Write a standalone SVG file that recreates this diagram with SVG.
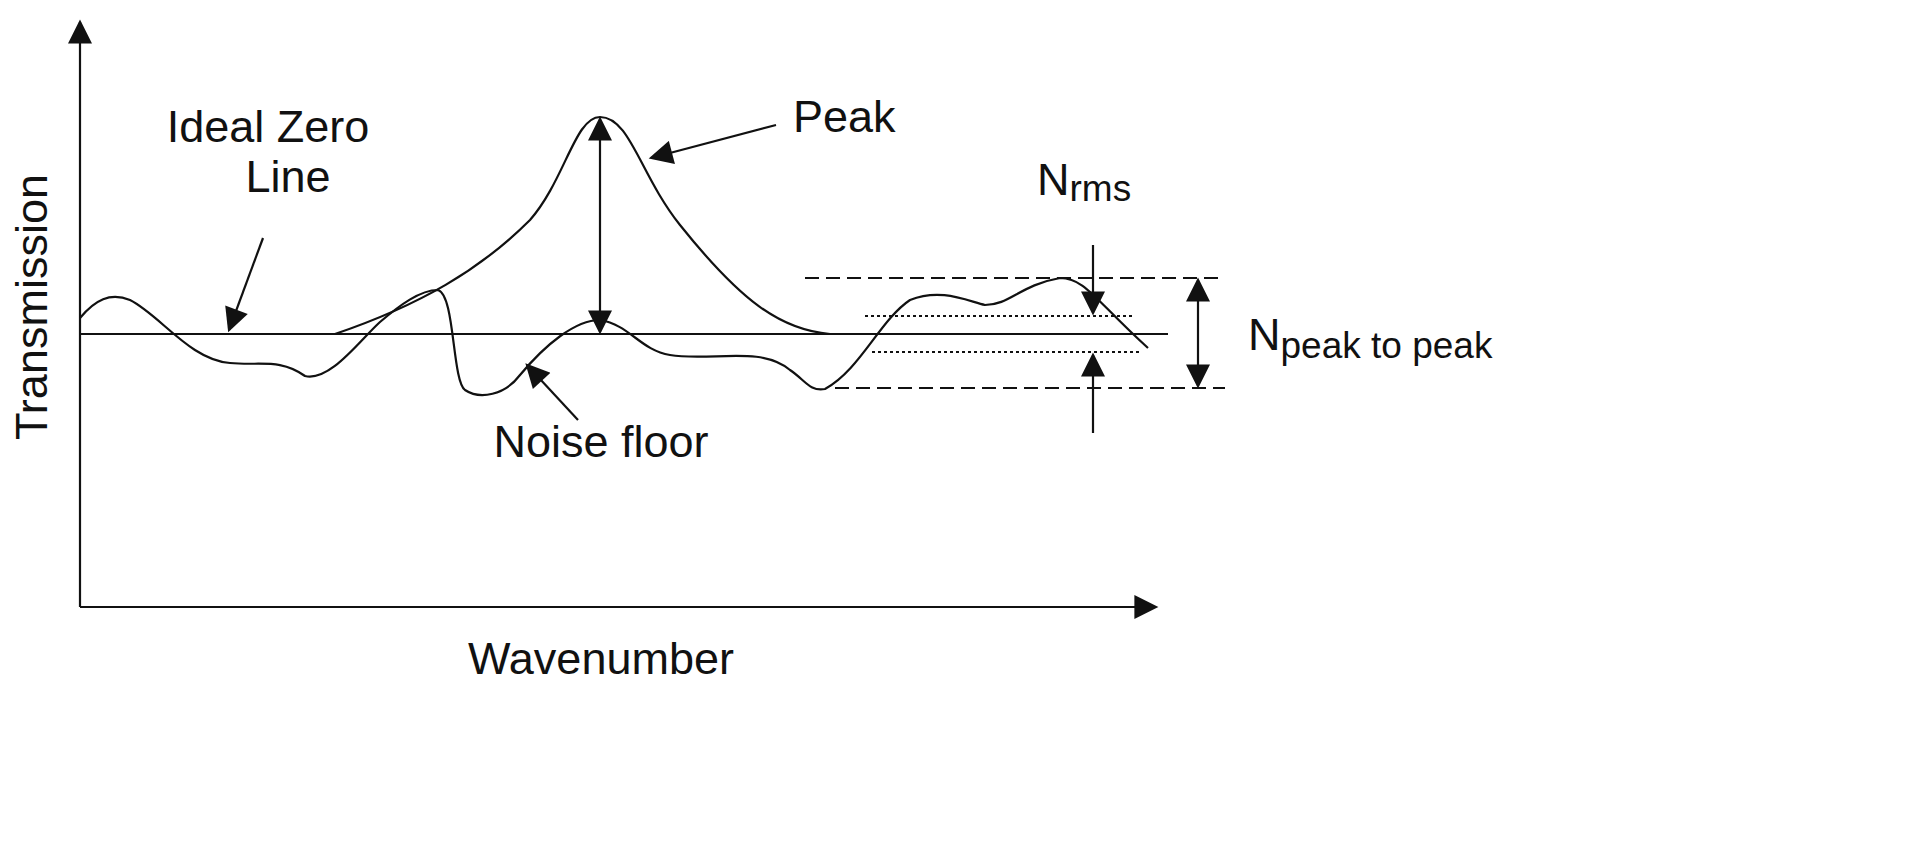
<svg xmlns="http://www.w3.org/2000/svg" width="1932" height="849" viewBox="0 0 1932 849">
<style>
.l{stroke:#111;stroke-width:2.2;fill:none}
.t{font-family:"Liberation Sans",Arial,sans-serif;font-size:45px;fill:#111}
.s{font-size:37px}
</style>
<defs>
<marker id="b" viewBox="0 0 10 10" refX="9" refY="5" markerWidth="26" markerHeight="24" orient="auto-start-reverse" markerUnits="userSpaceOnUse"><path d="M0,0 L10,5 L0,10z" fill="#111"/></marker>
</defs>
<rect width="1932" height="849" fill="#fff"/>
<g id="axes">
<path class="l" d="M80,607 V22" marker-end="url(#b)"/>
<path class="l" d="M80,607 H1156" marker-end="url(#b)"/>
</g>
<g id="curves">
<path class="l" d="M80,334 H1168"/>
<path class="l" d="M335,334 C420,305 480,270 530,220 C565,180 575,117 600,117 C630,117 640,175 680,225 C740,300 780,330 830,334"/>
<path class="l" d="M80,318 C95,300 110,292 130,300 C160,315 190,360 230,363 C260,366 280,358 305,376 C330,382 360,340 380,322 C400,305 420,290 438,290 C455,295 452,380 465,390 C480,400 505,395 520,375 C545,345 575,320 600,320 C630,325 640,350 670,355 C710,362 760,345 790,370 C805,380 810,392 825,389 C860,370 880,320 910,300 C940,288 965,300 985,305 C1010,305 1020,285 1060,278 C1085,278 1095,300 1148,348"/>
<path class="l" d="M805,278 H1225 M835,388 H1225" stroke-dasharray="14,7"/>
<path class="l" d="M865,316 H1135 M872,352 H1140" stroke-dasharray="3,3" stroke-width="2"/>
</g>
<g id="connectors">
<path class="l" d="M600,119 V332" marker-start="url(#b)" marker-end="url(#b)"/>
<path class="l" d="M1198,280 V386" marker-start="url(#b)" marker-end="url(#b)"/>
<path class="l" d="M1093,245 V313" marker-end="url(#b)"/>
<path class="l" d="M1093,433 V355" marker-end="url(#b)"/>
<path class="l" d="M263,238 L229,330" marker-end="url(#b)"/>
<path class="l" d="M776,125 L651,158" marker-end="url(#b)"/>
<path class="l" d="M578,420 L527,365" marker-end="url(#b)"/>
</g>
<g id="labels">
<text class="t" x="268" y="142" text-anchor="middle">Ideal Zero</text>
<text class="t" x="288" y="192" text-anchor="middle">Line</text>
<text class="t" x="793" y="132">Peak</text>
<text class="t" x="1037" y="195">N<tspan class="s" dy="6">rms</tspan></text>
<text class="t" x="1248" y="350">N<tspan class="s" dy="8">peak to peak</tspan></text>
<text class="t" x="601" y="457" text-anchor="middle">Noise floor</text>
<text class="t" x="601" y="674" text-anchor="middle">Wavenumber</text>
<text class="t" x="0" y="0" text-anchor="middle" transform="translate(47,307) rotate(-90)">Transmission</text>
</g>
</svg>
